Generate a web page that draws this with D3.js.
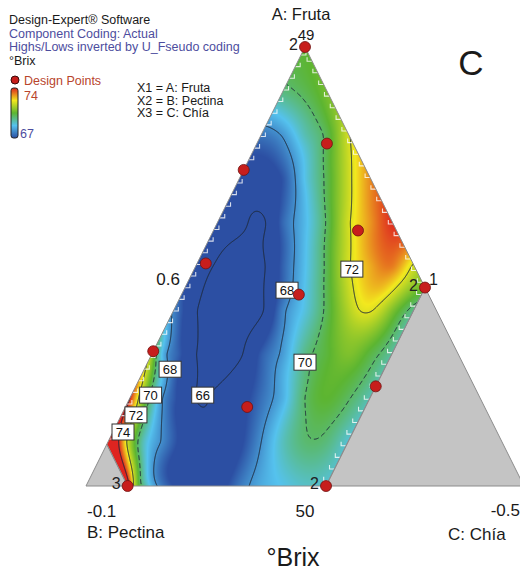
<!DOCTYPE html>
<html>
<head>
<meta charset="utf-8">
<script src="https://cdn.jsdelivr.net/npm/d3@7"></script>
<style>
  body { margin: 0; background: #fff; }
  svg text { font-family: "Liberation Sans", Arial, sans-serif; }
</style>
</head>
<body>
<svg id="chart" width="520" height="573"></svg>
<script>
// readings of °Brix, row by row (A fraction), at C fractions
const rowA = [0, 0.1, 0.2, 0.3, 0.4, 0.45, 0.5, 0.55, 0.6, 0.7, 0.8, 0.9, 1];
const rowC = [
  [0.095, 0.11, 0.13, 0.16, 0.2, 0.25, 0.3, 0.35, 0.4, 0.45, 0.5, 0.548],
  [0, 0.02, 0.04, 0.06, 0.08, 0.1, 0.12, 0.15, 0.2, 0.25, 0.3, 0.35, 0.4, 0.45, 0.5, 0.548],
  [0, 0.01, 0.02, 0.03, 0.045, 0.06, 0.075, 0.1, 0.15, 0.2, 0.25, 0.3, 0.35, 0.4, 0.45, 0.5, 0.548],
  [0, 0.01, 0.02, 0.035, 0.06, 0.1, 0.15, 0.2, 0.25, 0.3, 0.35, 0.4, 0.45, 0.5, 0.548],
  [0, 0.02, 0.05, 0.1, 0.15, 0.2, 0.25, 0.3, 0.35, 0.4, 0.425, 0.45, 0.475, 0.5, 0.548],
  [0, 0.35, 0.4, 0.45, 0.5, 0.55],
  [0, 0.05, 0.1, 0.15, 0.2, 0.25, 0.3, 0.35, 0.4, 0.45, 0.5],
  [0.45],
  [0, 0.05, 0.1, 0.15, 0.2, 0.25, 0.3, 0.35, 0.4],
  [0, 0.05, 0.1, 0.15, 0.2, 0.25, 0.3],
  [0, 0.05, 0.1, 0.15, 0.2],
  [0, 0.05, 0.1],
  [0]
];
const rowBrix = [
  [74.8, 71.8, 69.8, 68.1, 67, 66.4, 66.6, 67.6, 68.4, 68.8, 69.1, 69],
  [76.5, 74.5, 72.3, 70.6, 69.3, 68.5, 68, 67.2, 66.3, 66.1, 66.8, 68, 69.2, 69.9, 69.8, 69],
  [74, 73, 72, 71, 70, 69, 68, 67.2, 66, 66.15, 66.6, 67.5, 68.5, 70, 70.5, 70.05, 69.3],
  [71.2, 70, 69, 68, 67.3, 66.05, 65.7, 65.85, 67.2, 68.2, 69.7, 70.4, 70.9, 70.3, 69.5],
  [67.8, 67.1, 66.1, 65.6, 65.5, 65.85, 67.8, 68.9, 70.2, 71.5, 72, 72.05, 71.6, 70.9, 69.7],
  [67, 71, 72.3, 72.6, 71.5, 70.5],
  [66.6, 65.9, 65.6, 65.8, 67.3, 68.7, 70.2, 71.9, 72.8, 73.2, 71.8],
  [73.4],
  [66.5, 66.3, 65.8, 67.4, 68.6, 70.1, 71.9, 73, 73.9],
  [66.7, 66.6, 67.1, 68.8, 70.2, 71.8, 73.1],
  [67.6, 68.1, 69.3, 70.2, 71.9],
  [69.8, 70.2, 70.8],
  [70.5]
];

// design points (A and C fractions) and replicate counts
const designA = [1, 0.78, 0.72, 0.507, 0.307, 0.436, 0.582, 0.452, 0.227, 0, 0, 0.18];
const designC = [0, 0.16, 0, 0.02, 0, 0.268, 0.33, 0.548, 0.548, 0.548, 0.095, 0.278];
const designReps = [2, 1, 1, 1, 1, 1, 1, 2, 1, 2, 3, 1];

const contourLevels = [66, 68, 70, 72, 74];
const labelLevels = [68, 72, 70, 66, 68, 70, 72, 74];
const labelA = [0.446, 0.494, 0.282, 0.207, 0.266, 0.207, 0.162, 0.123];
const labelC = [0.236, 0.36, 0.359, 0.163, 0.059, 0.044, 0.033, 0.023];

const colorDomain = [67, 68.75, 70.5, 72.25, 74];
const colorRange = ["#2c4fa3", "#55c2ee", "#5cb531", "#f2e81e", "#de2420"];

const cMax = 0.548;  // C upper bound
const bMax = 0.905;  // B upper bound

const svg = d3.select("#chart");

const xScale = d3.scaleLinear().domain([0, 1]).range([86, 524]);
const yScale = d3.scaleLinear().domain([0, 1]).range([486, 47]);
const project = (a, c) => [xScale(c + a / 2), yScale(a)];

// --- smooth surface through the readings (thin plate spline) ---
const pu = [], pw = [], pv = [];
rowA.forEach((a, i) => rowC[i].forEach((c, j) => {
  const [x, y] = project(a, c);
  pu.push(x / 440); pw.push(y / 440); pv.push(rowBrix[i][j]);
}));
const n = pv.length;
const N = n + 3;
const M = [];
for (let i = 0; i < N; i++) M.push(new Float64Array(N + 1));
const tps = (r2) => (r2 > 0 ? 0.5 * r2 * Math.log(r2) : 0);
for (let i = 0; i < n; i++) {
  for (let j = 0; j < n; j++) {
    const dx = pu[i] - pu[j], dy = pw[i] - pw[j];
    M[i][j] = tps(dx * dx + dy * dy);
  }
  M[i][n] = 1; M[i][n + 1] = pu[i]; M[i][n + 2] = pw[i]; M[i][N] = pv[i];
  M[n][i] = 1; M[n + 1][i] = pu[i]; M[n + 2][i] = pw[i];
}
function solve(A, size) {
  for (let k = 0; k < size; k++) {
    let p = k;
    for (let i = k + 1; i < size; i++) if (Math.abs(A[i][k]) > Math.abs(A[p][k])) p = i;
    const t = A[k]; A[k] = A[p]; A[p] = t;
    for (let i = k + 1; i < size; i++) {
      const f = A[i][k] / A[k][k];
      if (f === 0) continue;
      for (let j = k; j <= size; j++) A[i][j] -= f * A[k][j];
    }
  }
  const s = new Float64Array(size);
  for (let i = size - 1; i >= 0; i--) {
    let t = A[i][size];
    for (let j = i + 1; j < size; j++) t -= A[i][j] * s[j];
    s[i] = t / A[i][i];
  }
  return s;
}
const coef = solve(M, N);
function surface(px, py) {
  const u = px / 440, w = py / 440;
  let v = coef[n] + coef[n + 1] * u + coef[n + 2] * w;
  for (let k = 0; k < n; k++) {
    const dx = u - pu[k], dy = w - pw[k];
    const r2 = dx * dx + dy * dy;
    if (r2 > 0) v += coef[k] * 0.5 * r2 * Math.log(r2);
  }
  return v;
}

// grid over the triangle (a little wider so contour borders fall outside)
const x0 = 80, y0 = 40, gw = 452, gh = 452;
const values = new Float64Array(gw * gh);
for (let j = 0; j < gh; j++) {
  for (let i = 0; i < gw; i++) {
    values[j * gw + i] = surface(x0 + i + 0.5, y0 + j + 0.5);
  }
}

const color = d3.scaleLinear().domain(colorDomain).range(colorRange).clamp(true);

// feasible region
const apex = project(1, 0);
const rightV = project(1 - cMax, cMax);
const bottomR = project(0, cMax);
const bottomL = project(0, 1 - bMax);
const leftV = project(1 - bMax, 0);
const region = [apex, rightV, bottomR, bottomL, leftV];

const defs = svg.append("defs");
defs.append("clipPath").attr("id", "region")
  .append("polygon").attr("points", region.map((p) => p.join(",")).join(" "));

// heat map
const canvas = document.createElement("canvas");
canvas.width = gw; canvas.height = gh;
const ctx = canvas.getContext("2d");
const img = ctx.createImageData(gw, gh);
for (let k = 0; k < gw * gh; k++) {
  const c = d3.rgb(color(values[k]));
  img.data[4 * k] = c.r; img.data[4 * k + 1] = c.g; img.data[4 * k + 2] = c.b; img.data[4 * k + 3] = 255;
}
ctx.putImageData(img, 0, 0);

const plot = svg.append("g").attr("clip-path", "url(#region)");
plot.append("image")
  .attr("x", x0).attr("y", y0).attr("width", gw).attr("height", gh)
  .attr("href", canvas.toDataURL());

// contour lines
const contours = d3.contours().size([gw, gh]).thresholds(contourLevels)(values);
plot.append("g")
  .attr("transform", `translate(${x0},${y0})`)
  .selectAll("path")
  .data(contours)
  .join("path")
  .attr("d", d3.geoPath())
  .attr("fill", "none")
  .attr("stroke", "#1f2a3a")
  .attr("stroke-width", 1)
  .attr("stroke-dasharray", (d) => (d.value === 70 ? "5,3" : null));

// white hatch marks along the constraint edges
function edgeTicks(p, q, dir) {
  const len = Math.hypot(q[0] - p[0], q[1] - p[1]);
  const steps = d3.range(6, len - 4, 13);
  return steps.map((s) => {
    const t = s / len;
    const x = p[0] + t * (q[0] - p[0]), y = p[1] + t * (q[1] - p[1]);
    return `M${x},${y}h${dir * 5}v-4`;
  }).join("");
}
plot.append("path")
  .attr("d", edgeTicks(leftV, apex, 1) + edgeTicks(rightV, apex, -1) + edgeTicks(bottomR, rightV, -1))
  .attr("fill", "none")
  .attr("stroke", "#fff")
  .attr("stroke-opacity", 0.8)
  .attr("stroke-width", 1.1);

// grey excluded corners
svg.append("polygon")
  .attr("points", [project(0, 0), bottomL, leftV].map((p) => p.join(",")).join(" "))
  .attr("fill", "#c4c4c4").attr("stroke", "#8c8c8c");
svg.append("polygon")
  .attr("points", [project(0, 1), rightV, bottomR].map((p) => p.join(",")).join(" "))
  .attr("fill", "#c4c4c4").attr("stroke", "#8c8c8c");
svg.append("polygon")
  .attr("points", region.map((p) => p.join(",")).join(" "))
  .attr("fill", "none").attr("stroke", "#8c8c8c");

// contour labels
const labels = svg.append("g").selectAll("g")
  .data(labelLevels.map((v, i) => ({ v, p: project(labelA[i], labelC[i]) })))
  .join("g")
  .attr("transform", (d) => `translate(${d.p[0]},${d.p[1]})`);
labels.append("rect")
  .attr("x", -11).attr("y", -8).attr("width", 22).attr("height", 16)
  .attr("fill", "#fff").attr("stroke", "#333").attr("stroke-width", 1);
labels.append("text")
  .attr("text-anchor", "middle").attr("y", 5)
  .attr("font-size", 13).attr("fill", "#111")
  .text((d) => d.v);

// design points
const design = designA.map((a, i) => ({ p: project(a, designC[i]), r: designReps[i] }));
svg.append("g").selectAll("circle")
  .data(design)
  .join("circle")
  .attr("cx", (d) => d.p[0]).attr("cy", (d) => d.p[1])
  .attr("r", 5.5)
  .attr("fill", "#c71e1c").attr("stroke", "#6e1210").attr("stroke-width", 0.8);
svg.append("g").selectAll("text")
  .data(design.filter((d) => d.r > 1))
  .join("text")
  .attr("x", (d) => d.p[0] - 7).attr("y", (d) => d.p[1] + 3)
  .attr("text-anchor", "end")
  .attr("font-size", 16).attr("fill", "#222")
  .text((d) => d.r);

// axis texts
const axisText = (x, y, s, size, anchor) => svg.append("text")
  .attr("x", x).attr("y", y).attr("font-size", size)
  .attr("text-anchor", anchor || "start").attr("fill", "#1a1a1a").text(s);
axisText(301, 20, "A: Fruta", 16.5, "middle");
axisText(306, 39.5, "49", 15, "middle");
axisText(429, 285, "1", 16);
axisText(180, 285, "0.6", 17, "end");
axisText(87, 517, "-0.1", 17);
axisText(87, 538, "B: Pectina", 17);
axisText(305, 517, "50", 17, "middle");
axisText(520, 516, "-0.5", 17, "end");
axisText(448, 540, "C: Chía", 17);
axisText(293, 566, "°Brix", 25, "middle");
axisText(471, 75, "C", 35, "middle");

// legend block
const legend = svg.append("g");
const legendLines = [
  ["Design-Expert® Software", "#1a1a1a", 24],
  ["Component Coding: Actual", "#4d4d9e", 37.5],
  ["Highs/Lows inverted by U_Fseudo coding", "#4d4d9e", 51],
  ["°Brix", "#1a1a1a", 64.5]
];
legendLines.forEach(([s, fill, y]) => {
  legend.append("text").attr("x", 9).attr("y", y).attr("font-size", 12.5).attr("fill", fill).text(s);
});
legend.append("circle").attr("cx", 15).attr("cy", 80).attr("r", 4)
  .attr("fill", "#c71e1c").attr("stroke", "#3a0a0a");
legend.append("text").attr("x", 24).attr("y", 85).attr("font-size", 12.5).attr("fill", "#b8452c").text("Design Points");
legend.append("text").attr("x", 24).attr("y", 100).attr("font-size", 12.5).attr("fill", "#b8452c").text(colorDomain[4]);
legend.append("text").attr("x", 20).attr("y", 138).attr("font-size", 12.5).attr("fill", "#4d4d9e").text(colorDomain[0]);

const grad = defs.append("linearGradient").attr("id", "bar").attr("x1", 0).attr("y1", 1).attr("x2", 0).attr("y2", 0);
colorDomain.forEach((v, i) => {
  grad.append("stop")
    .attr("offset", (v - colorDomain[0]) / (colorDomain[4] - colorDomain[0]))
    .attr("stop-color", colorRange[i]);
});
legend.append("rect").attr("x", 11).attr("y", 88).attr("width", 7).attr("height", 50).attr("rx", 2.5)
  .attr("fill", "url(#bar)").attr("stroke", "#222").attr("stroke-width", 1);

const xLines = ["X1 = A: Fruta", "X2 = B: Pectina", "X3 = C: Chía"];
xLines.forEach((s, i) => {
  legend.append("text").attr("x", 137).attr("y", 92 + i * 12.5).attr("font-size", 12.5).attr("fill", "#1a1a1a").text(s);
});
</script>
</body>
</html>
